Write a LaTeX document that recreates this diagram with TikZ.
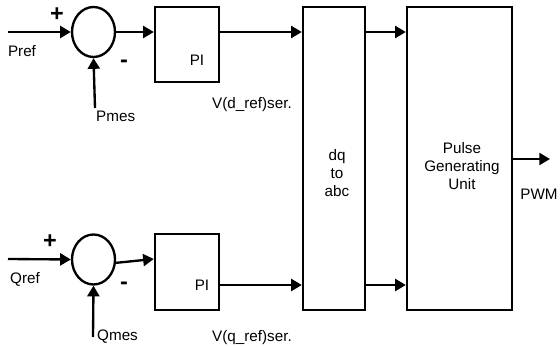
\documentclass[tikz,border=0pt]{standalone}
\usepackage{fontspec}
\setmainfont{Liberation Sans}
\usetikzlibrary{arrows.meta, positioning, shapes.geometric}

\begin{document}
\begin{tikzpicture}[x=0.03cm, y=-0.03cm,
  block/.style={rectangle, draw, line width=2pt, inner sep=0pt},
  sumnode/.style={ellipse, draw, line width=2pt, minimum width=1.29cm, minimum height=1.5cm, inner sep=0pt},
  txt/.style={font=\fontsize{13}{15}\selectfont, inner sep=0pt, align=center},
  sign/.style={font=\fontsize{20}{20}\selectfont\bfseries, inner sep=0pt},
  sig/.style={-{Triangle[length=3.2mm, width=3.6mm]}, line width=2pt},
]
\useasboundingbox (0,0) rectangle (560,347);

% ── d channel (top) ──
\node[sumnode] (sumP) at (93.5,32) {};
\coordinate (pref) at (8,32);
\coordinate (pmes) at (95,108);
\node[block, minimum width=1.92cm, minimum height=2.25cm] (piD) at (187,44.5) {};
\node[txt] (piDt) at (197,60) {PI};

% ── q channel (bottom) ──
\node[sumnode] (sumQ) at (93.5,259.5) {};
\coordinate (qref) at (8,259);
\coordinate (qmes) at (93,337);
\node[block, minimum width=1.92cm, minimum height=2.28cm] (piQ) at (187,272) {};
\node[txt] (piQt) at (202,285) {PI};

% ── transformation and pulse unit ──
\node[block, minimum width=1.86cm, minimum height=9.09cm] (dqabc) at (334,158.5) {};
\node[txt] (dqabct) at (337,173) {dq\\to\\abc};
\node[block, minimum width=3.15cm, minimum height=9.09cm] (pgu) at (459.5,158.5) {};
\node[txt] (pgut) at (462,166) {Pulse\\Generating\\Unit};
\coordinate (pwm) at (550,159);

% ── labels ──
\node[txt] (lpref) at (22,51) {Pref};
\node[txt, anchor=west] (lpmes) at (96,116) {Pmes};
\node[sign] (plusP) at (57,15) {+};
\node[sign] (minusP) at (124,64) {-};
\node[txt] (lqref) at (25,279) {Qref};
\node[txt, anchor=west] (lqmes) at (97,337) {Qmes};
\node[sign] (plusQ) at (50,242) {+};
\node[sign] (minusQ) at (124,286) {-};
\node[txt] (lvd) at (252,105) {V(d\_ref)ser.};
\node[txt] (lvq) at (252,338) {V(q\_ref)ser.};
\node[txt] (lpwm) at (539,194) {PWM};

% ── signals ──
\draw[sig] (pref) -- (sumP.west);
\draw[sig] (pmes) -- (sumP.south);
\draw[sig] (sumP.east) -- (piD.west |- sumP.east);
\draw[sig] (piD.east |- 0,32) -- (dqabc.west |- 0,32);
\draw[sig] (dqabc.east |- 0,32) -- (pgu.west |- 0,32);

\draw[sig] (qref) -- (sumQ.west);
\draw[sig] (qmes) -- (sumQ.south);
\draw[sig] ([yshift=-0.1cm]sumQ.east) -- (piQ.west |- 0,259);
\draw[sig] (piQ.east |- 0,285) -- (dqabc.west |- 0,285);
\draw[sig] (dqabc.east |- 0,285) -- (pgu.west |- 0,285);

\draw[sig] (pgu.east |- pwm) -- (pwm);
\end{tikzpicture}
\end{document}
